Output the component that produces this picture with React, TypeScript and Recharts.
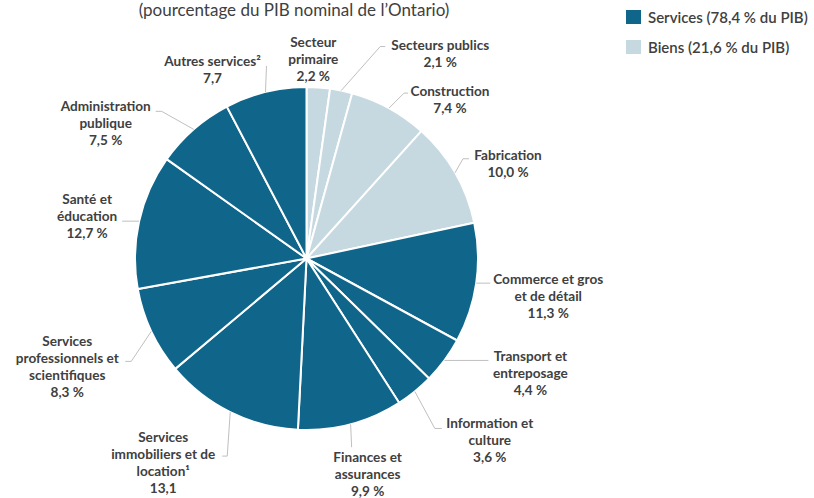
import React from "react";
import { PieChart, Pie, Cell, Legend } from "recharts";

const sectors = [
  "Secteur primaire",
  "Secteurs publics",
  "Construction",
  "Fabrication",
  "Commerce et gros et de détail",
  "Transport et entreposage",
  "Information et culture",
  "Finances et assurances",
  "Services immobiliers et de location",
  "Services professionnels et scientifiques",
  "Santé et éducation",
  "Administration publique",
  "Autres services",
];
const shares = [2.2, 2.1, 7.4, 10.0, 11.3, 4.4, 3.6, 9.9, 13.1, 8.3, 12.7, 7.5, 7.7];
const groups = ["Biens", "Biens", "Biens", "Biens", "Services", "Services", "Services", "Services", "Services", "Services", "Services", "Services", "Services"];
const labelLines = [
  ["Secteur", "primaire"],
  ["Secteurs publics"],
  ["Construction"],
  ["Fabrication"],
  ["Commerce et gros", "et de détail"],
  ["Transport et", "entreposage"],
  ["Information et", "culture"],
  ["Finances et", "assurances"],
  ["Services", "immobiliers et de", "location¹"],
  ["Services", "professionnels et", "scientifiques"],
  ["Santé et", "éducation"],
  ["Administration", "publique"],
  ["Autres services²"],
];
const showPercent = [true, true, true, true, true, true, true, true, false, true, true, true, false];
const legendItems = [
  { name: "Services", text: "Services (78,4 % du PIB)" },
  { name: "Biens", text: "Biens (21,6 % du PIB)" },
];
const title = "(pourcentage du PIB nominal de l’Ontario)";

const COLORS: Record<string, string> = { Services: "#10668a", Biens: "#c6d9e0" };
const TEXT = "#404040";
const LINE = "#bfbfbf";
const FONT = "Lato, 'Noto Sans', sans-serif";

// label layout: offsets relative to the slice's outer edge point at its mid angle
// pts: leader line points (after edge point), text: [dx, dy] of first line's center
const labelLayout: { pts: number[][]; text: number[] }[] = [
  { pts: [], text: [-5, -45] },
  { pts: [[39, -44], [44, -44]], text: [99, -46] },
  { pts: [[15, -15], [19, -15]], text: [61, -17] },
  { pts: [[8, -14], [14, -14]], text: [53, -18] },
  { pts: [[14, 0]], text: [72, -4] },
  { pts: [[44, 0]], text: [86, -4] },
  { pts: [[20, 37], [27, 37]], text: [75, 32] },
  { pts: [[1, 23]], text: [17, 33] },
  { pts: [[-3, 44], [-8, 44]], text: [-67, 25] },
  { pts: [[-20, 30], [-26, 30]], text: [-84, 10] },
  { pts: [[-17, 0]], text: [-52, -22] },
  { pts: [[-32, -18], [-38, -18]], text: [-88, -23] },
  { pts: [[1, -26]], text: [-53, -31] },
];

const data = sectors.map((s, i) => ({ name: s, value: shares[i], group: groups[i] }));

const RAD = Math.PI / 180;

const renderLabel = (props: any) => {
  const { cx, cy, midAngle, outerRadius, index } = props;
  const ex = cx + outerRadius * Math.cos(-midAngle * RAD);
  const ey = cy + outerRadius * Math.sin(-midAngle * RAD);
  const lay = labelLayout[index];
  const lines = [...labelLines[index]];
  const v = shares[index].toFixed(1).replace(".", ",") + (showPercent[index] ? " %" : "");
  lines.push(v);
  const tx = ex + lay.text[0];
  const ty = ey + lay.text[1];
  const pts = [[ex, ey], ...lay.pts.map((p) => [ex + p[0], ey + p[1]])];
  return (
    <g key={`lbl-${index}`}>
      {pts.length > 1 && (
        <polyline points={pts.map((p) => p.join(",")).join(" ")} fill="none" stroke={LINE} strokeWidth={1} />
      )}
      <text x={tx} y={ty} textAnchor="middle" fill={TEXT} fontFamily={FONT} fontWeight={700} fontSize={13.6}>
        {lines.map((l, k) => (
          <tspan key={k} x={tx} y={ty + k * 17} dominantBaseline="central">
            {l}
          </tspan>
        ))}
      </text>
    </g>
  );
};

const renderLegend = () => (
  <div style={{ fontFamily: FONT, fontSize: 15, fontWeight: 600, color: TEXT }}>
    {legendItems.map((it, i) => (
      <div key={i} style={{ display: "flex", alignItems: "center", height: 16, marginBottom: i === 0 ? 14 : 0 }}>
        <span style={{ display: "inline-block", width: 15, height: 14, background: COLORS[it.name], marginRight: 7 }} />
        <span style={{ whiteSpace: "nowrap" }}>{it.text}</span>
      </div>
    ))}
  </div>
);

export default function App() {
  return (
    <div style={{ position: "absolute", left: 0, top: 0, width: 814, height: 498, background: "#fff" }}>
      <div
        style={{
          position: "absolute",
          left: 0,
          width: 588,
          top: 0,
          textAlign: "center",
          fontFamily: FONT,
          fontSize: 17,
          color: TEXT,
          lineHeight: "20px",
        }}
      >
        {title}
      </div>
      <PieChart width={814} height={498} margin={{ top: 0, right: 0, bottom: 0, left: 0 }}>
        <Pie
          data={data}
          dataKey="value"
          nameKey="name"
          cx={306.5}
          cy={258.5}
          outerRadius={171.5}
          startAngle={90}
          endAngle={-270}
          stroke="#ffffff"
          strokeWidth={2}
          label={renderLabel}
          labelLine={false}
          isAnimationActive={false}
        >
          {data.map((d, i) => (
            <Cell key={i} fill={COLORS[d.group]} />
          ))}
        </Pie>
        <Legend
          layout="vertical"
          verticalAlign="top"
          align="right"
          content={renderLegend}
          wrapperStyle={{ position: "absolute", left: 626, top: 9, width: 188 }}
        />
      </PieChart>
    </div>
  );
}
